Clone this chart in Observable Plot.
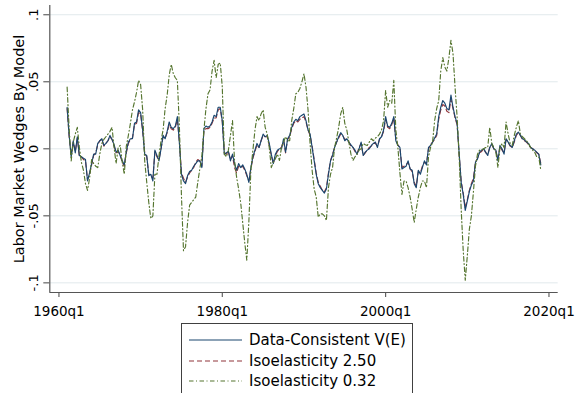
<!DOCTYPE html>
<html>
<head>
<meta charset="utf-8">
<script src="https://cdn.jsdelivr.net/npm/d3@7"></script>
<script src="https://cdn.jsdelivr.net/npm/@observablehq/plot@0.6"></script>
<style>
html, body { margin: 0; padding: 0; background: #fff; width: 575px; height: 393px; overflow: hidden; }
#chart svg { display: block; }
#legend { position: relative; margin-left: 181px; margin-top: 1px; width: 232px; height: 90px; box-sizing: border-box; border: 1px solid #404040; background: #fff; font-family: "DejaVu Sans", sans-serif; font-size: 15px; color: #000; }
#legend .row { position: absolute; left: 0; height: 20px; display: flex; align-items: center; }
#legend .row svg { margin-left: 7px; margin-right: 7px; }
</style>
</head>
<body>
<div id="chart"></div>
<div id="legend"></div>
<script>
const startYear = 1961; // 1961q1, quarterly
const seriesNames = ["Data-Consistent V(E)", "Isoelasticity 2.50", "Isoelasticity 0.32"];

const dataConsistent = [
  .031, .010, -.006, .006, -.003, .009, -.005, -.006, -.007, -.008,
  -.024, -.018, -.011, -.004, -.004, .004, .006, .0075, .0025, .004,
  .006, .010, .007, .003, -.0025, -.001, -.005, -.009, -.012, -.002,
  .005, .0075, .0075, .019, .020, .029, .027, .014, -.004, -.005,
  -.020, -.019, -.024, -.001, -.005, -.009, 0, .010, .0075, .013,
  .020, .016, .015, .017, .024, .004, -.019, -.024, -.026, -.020,
  -.017, -.016, -.013, -.011, -.009, -.009, -.014, .015, .017, .016,
  .017, .020, .025, .024, .031, .031, .021, -.004, -.003, -.002,
  -.009, -.004, -.011, -.016, -.011, -.014, -.012, -.015, -.019, -.025,
  -.014, -.006, -.001, .004, .001, .006, .011, .009, .010, .004,
  -.004, -.011, -.004, -.001, 0, 0, .0075, -.0025, .0075, .010,
  .016, .020, .022, .021, .024, .025, .026, .021, .014, .011,
  .001, -.009, -.019, -.026, -.029, -.031, -.033, -.030, -.019, -.009,
  -.005, .001, .005, .009, .012, .010, .006, .0075, .005, .003,
  .001, -.001, -.004, 0, .005, -.005, -.0025, -.001, 0, .0025,
  .004, .005, .001, .0075, .009, .014, .024, .017, .016, .019,
  .024, .006, .0025, .001, -.015, -.014, -.013, -.009, -.015, -.016,
  -.026, -.029, -.016, -.019, -.014, -.009, -.012, .001, .0025, .005,
  .008, .011, .024, .031, .036, .034, .030, .029, .040, .031,
  .024, .019, -.003, -.025, -.034, -.046, -.039, -.032, -.027, -.024,
  -.010, -.0075, -.0025, -.001, 0, -.0025, -.005, .001, .004, 0,
  -.001, -.009, .0025, 0, -.004, .0075, .005, .0025, .001, .006,
  .011, .0125, .010, .0075, .0067, .005, .004, .001, 0, -.001,
  -.0025, -.004, -.012
];

const iso250 = [
  .030, .009, -.005, .005, -.002, .008, -.006, -.006, -.008, -.009,
  -.023, -.019, -.012, -.005, -.003, .003, .006, .007, .002, .004,
  .006, .009, .007, .002, -.003, -.002, -.005, -.010, -.013, -.003,
  .004, .007, .008, .018, .019, .027, .026, .013, -.003, -.006,
  -.019, -.020, -.022, -.002, -.006, -.008, 0, .009, .008, .012,
  .018, .015, .014, .016, .022, .005, -.018, -.022, -.025, -.021,
  -.018, -.016, -.014, -.010, -.008, -.009, -.013, .014, .015, .015,
  .016, .019, .023, .023, .029, .030, .020, -.003, -.004, -.002,
  -.008, -.005, -.014, -.018, -.013, -.014, -.013, -.016, -.020, -.024,
  -.015, -.007, -.002, .003, .001, .006, .010, .009, .009, .003,
  -.005, -.011, -.005, -.002, 0, .001, .006, -.003, .007, .009,
  .015, .019, .021, .020, .022, .023, .024, .020, .014, .010,
  .002, -.008, -.018, -.025, -.028, -.031, -.032, -.029, -.018, -.009,
  -.004, .001, .005, .008, .011, .010, .007, .007, .005, .002,
  .001, -.002, -.004, .001, .004, -.005, -.003, -.001, .001, .002,
  .004, .004, .002, .007, .009, .013, .022, .016, .015, .018,
  .023, .007, .003, .001, -.014, -.013, -.012, -.010, -.015, -.017,
  -.025, -.028, -.017, -.018, -.013, -.010, -.011, 0, .003, .005,
  .007, .010, .022, .029, .033, .032, .028, .027, .037, .030,
  .023, .018, -.004, -.024, -.033, -.044, -.038, -.031, -.026, -.022,
  -.010, -.007, -.003, -.002, 0, -.003, -.004, .001, .003, 0,
  -.002, -.008, .002, -.001, -.003, .007, .005, .002, .001, .005,
  .010, .012, .010, .007, .006, .005, .003, .001, 0, -.001,
  -.003, -.004, -.011
];

const iso032 = [
  .046, .015, -.009, .005, .011, .016, .001, -.010, -.016, -.026,
  -.031, -.022, -.008, -.011, -.013, -.014, -.004, .004, .007, .009,
  .011, .013, .016, .001, -.011, .001, .0025, -.010, -.019, .002,
  .010, .019, .029, .035, .042, .051, .048, .029, -.009, -.025,
  -.040, -.052, -.050, -.019, -.019, -.005, .006, .014, .030, .040,
  .055, .063, .056, .053, .051, .016, -.035, -.076, -.073, -.055,
  -.042, -.040, -.038, -.036, -.025, -.015, -.005, .014, .030, .041,
  .044, .058, .066, .053, .063, .064, .046, -.004, -.006, -.001,
  .010, .021, -.009, -.021, -.030, -.040, -.055, -.070, -.083, -.055,
  -.016, -.001, .014, .024, .021, .026, .029, .016, .011, .001,
  -.014, -.010, -.0075, -.004, -.0087, .001, .005, .009, .006, .006,
  .021, .030, .041, .042, .045, .050, .056, .046, .029, .004,
  -.016, -.030, -.036, -.051, -.0485, -.0485, -.050, -.0535, -.029, -.019,
  -.014, .001, .008, .016, .026, .031, .019, .014, .005, -.004,
  -.0087, -.006, -.004, -.001, 0, .004, .003, .0025, .005, .0075,
  .006, .008, .009, .011, .014, .021, .0435, .031, .036, .034,
  .051, .014, .001, -.018, -.034, -.024, -.024, -.029, -.036, -.045,
  -.055, -.045, -.036, -.029, -.024, -.024, -.029, -.006, .001, .005,
  .021, .030, .036, .058, .068, .061, .058, .068, .081, .071,
  .046, .024, -.005, -.045, -.076, -.098, -.080, -.060, -.050, -.032,
  -.013, -.004, -.001, -.001, 0, .001, .001, .016, .004, .001,
  -.0025, -.014, .001, .004, .001, .020, .011, .004, .0025, .010,
  .016, .021, .011, .009, .0075, .006, .004, .001, -.001, -.0025,
  -.006, -.006, -.016
];

const xTicks = [1960, 1980, 2000, 2020];
const xTickLabels = ["1960q1", "1980q1", "2000q1", "2020q1"];
const yTicks = [-0.1, -0.05, 0, 0.05, 0.1];
const yTickLabels = ["-.1", "-.05", "0", ".05", ".1"];
const yTitle = "Labor Market Wedges By Model";

// styles
const colors = ["#1a476f", "#90353b", "#55752f"];
const dashes = [null, "5,3", "4.5,2.5,1,2.5"];
const axisColor = "#555555";
const gridColor = "#e1e9ec";
const xDomain = [1958.88, 2021.13];
const yDomain = [-0.1072, 0.1069];

const allSeries = [dataConsistent, iso250, iso032];
const rows = [];
allSeries.forEach((arr, s) => arr.forEach((v, i) => rows.push({date: startYear + i / 4, value: v, series: s})));

const lineMark = (s) => Plot.line(rows.filter(d => d.series === s), {
  x: "date", y: "value", stroke: colors[s], strokeWidth: 1.15,
  strokeDasharray: dashes[s] || undefined, strokeLinejoin: "round"
});

const chart = Plot.plot({
  width: 575,
  height: 322,
  marginLeft: 49.3,
  marginRight: 17.3,
  marginTop: 5,
  marginBottom: 30,
  style: {fontFamily: "DejaVu Sans, sans-serif", fontSize: "13.5px", color: "#000", background: "#fff"},
  x: {domain: xDomain},
  y: {domain: yDomain},
  marks: [
    Plot.gridY(yTicks, {stroke: gridColor, strokeOpacity: 1, strokeWidth: 1}),
    Plot.axisX({ticks: xTicks, tickFormat: d => xTickLabels[xTicks.indexOf(d)], tickSize: 5, tickPadding: 9, stroke: axisColor, strokeWidth: 1.1, label: null, fontSize: 13.5, fill: "#000"}),
    Plot.axisY({ticks: yTicks, tickFormat: () => "", tickSize: 6, label: null, stroke: axisColor, strokeWidth: 1.1}),
    Plot.text(yTicks, {y: d => d, text: (d, i) => yTickLabels[i], frameAnchor: "left", rotate: -90, dx: -11.5, lineAnchor: "bottom", textAnchor: "middle", fontSize: 13, fill: "#000"}),
    Plot.text([yTitle], {frameAnchor: "left", rotate: -90, dx: -25.5, lineAnchor: "bottom", textAnchor: "middle", fontSize: 14.5, fill: "#000"}),
    lineMark(1),
    lineMark(0),
    lineMark(2),
    Plot.ruleX([xDomain[0]], {stroke: axisColor, strokeWidth: 1.2}),
    Plot.ruleY([yDomain[0]], {stroke: axisColor, strokeWidth: 1.2})
  ]
});
document.getElementById("chart").appendChild(chart);

// legend
const legend = document.getElementById("legend");
const rowTops = [6, 26.5, 46.5];
seriesNames.forEach((name, s) => {
  const row = document.createElement("div");
  row.className = "row";
  row.style.top = rowTops[s] + "px";
  const dash = dashes[s] ? `stroke-dasharray="${dashes[s]}"` : "";
  row.innerHTML = `<svg width="53" height="6"><line x1="0" y1="3" x2="53" y2="3" stroke="${colors[s]}" stroke-width="1.2" ${dash}/></svg><span>${name}</span>`;
  legend.appendChild(row);
});
</script>
</body>
</html>
